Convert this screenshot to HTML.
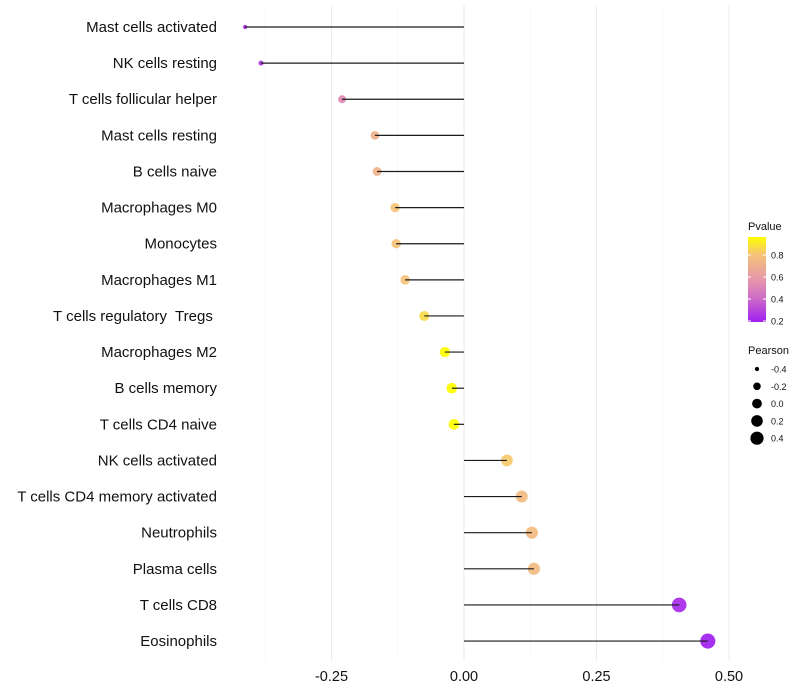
<!DOCTYPE html>
<html><head><meta charset="utf-8"><style>body{margin:0;background:#fff}svg{display:block}text{font-family:"Liberation Sans",sans-serif;white-space:pre}</style></head>
<body>
<svg id="chart" width="800" height="700" xmlns="http://www.w3.org/2000/svg"></svg>
<script>
const categories=["Mast cells activated","NK cells resting","T cells follicular helper","Mast cells resting","B cells naive","Macrophages M0","Monocytes","Macrophages M1","T cells regulatory  Tregs ","Macrophages M2","B cells memory","T cells CD4 naive","NK cells activated","T cells CD4 memory activated","Neutrophils","Plasma cells","T cells CD8","Eosinophils"];
const pearson=[-0.413,-0.383,-0.230,-0.168,-0.164,-0.130,-0.128,-0.111,-0.075,-0.036,-0.023,-0.019,0.081,0.109,0.128,0.132,0.406,0.460];
const pvalues=[0.22,0.25,0.52,0.72,0.72,0.80,0.80,0.80,0.86,0.97,0.97,0.97,0.82,0.76,0.76,0.76,0.22,0.19];
const xTicks=[-0.25,0,0.25,0.5];
const xTickLabels=["-0.25","0.00","0.25","0.50"];
const legendP=[0.2,0.4,0.6,0.8];
const legendS=[-0.4,-0.2,0.0,0.2,0.4];
const legendSLabels=["-0.4","-0.2","0.0","0.2","0.4"];
const svg=document.getElementById('chart');const NS="http://www.w3.org/2000/svg";
function mk(t,a,p){const e=document.createElementNS(NS,t);for(const k in a)e.setAttribute(k,a[k]);(p||svg).appendChild(e);return e;}
const x=v=>464+v*530;
const y=i=>27+i*36.12;
const rad=v=>Math.sqrt(Math.max(1,29.5+60*v));
const stops=[[0.19,[160,32,240]],[0.4,[205,105,200]],[0.55,[228,145,175]],[0.8,[245,195,120]],[0.96,[255,255,0]]];
function col(p){if(p<=stops[0][0])return `rgb(${stops[0][1]})`;for(let i=1;i<stops.length;i++){if(p<=stops[i][0]){const a=stops[i-1],b=stops[i],t=(p-a[0])/(b[0]-a[0]);return `rgb(${a[1].map((c,j)=>Math.round(c+(b[1][j]-c)*t)).join(',')})`;}}return `rgb(${stops[4][1]})`;}
[-0.375,-0.25,-0.125,0,0.125,0.25,0.375,0.5].forEach(v=>{const g=mk('line',{x1:x(v),x2:x(v),y1:5,y2:661,stroke:v*8%2?'#f3f3f3':'#ebebeb','stroke-width':v*8%2?0.6:1});

});
xTicks.forEach((v,i)=>{const t=mk('text',{x:x(v),y:681,'text-anchor':'middle','font-size':14.5,fill:'#111'});t.textContent=xTickLabels[i];

});
categories.forEach((c,i)=>{
const l=mk('text',{x:217,y:y(i)+5,'text-anchor':'end','font-size':15,fill:'#111'});l.textContent=c;


const d=mk('circle',{cx:x(pearson[i]),cy:y(i),r:rad(pearson[i]),fill:col(pvalues[i]),'fill-opacity':0.92});


const s=mk('line',{x1:x(0),x2:x(pearson[i]),y1:y(i),y2:y(i),stroke:'#1a1a1a','stroke-width':1.2});


});
const lt=mk('text',{x:748,y:230,'font-size':11,fill:'#111'});lt.textContent='Pvalue';


const defs=mk('defs',{});const gr=mk('linearGradient',{id:'pg',x1:0,y1:1,x2:0,y2:0},defs);
stops.forEach(s=>mk('stop',{offset:(s[0]-0.19)/0.77,'stop-color':col(s[0])},gr));
const cb=mk('rect',{x:748,y:237,width:18,height:85,fill:'url(#pg)'});


legendP.forEach(p=>{const yy=321-(p-0.2)*110;mk('line',{x1:748,x2:751,y1:yy,y2:yy,stroke:'#fff'});mk('line',{x1:763,x2:766,y1:yy,y2:yy,stroke:'#fff'});
const t=mk('text',{x:771,y:yy+3.5,'font-size':9,fill:'#111'});t.textContent=p.toFixed(1);

});
const st=mk('text',{x:748,y:354,'font-size':11,fill:'#111'});st.textContent='Pearson';


legendS.forEach((v,i)=>{const yy=369+i*17.3;const c=mk('circle',{cx:757,cy:yy,r:rad(v)*0.9,fill:'#000'});


const t=mk('text',{x:771,y:yy+3.5,'font-size':9,fill:'#111'});t.textContent=legendSLabels[i];

});
</script>
</body></html>
